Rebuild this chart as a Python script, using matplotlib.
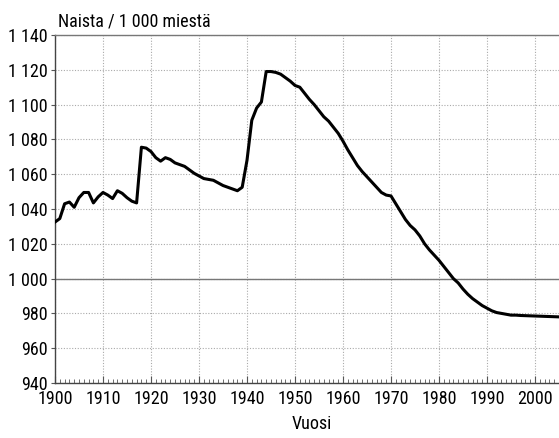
import matplotlib
matplotlib.use("Agg")
import matplotlib.pyplot as plt
from matplotlib.ticker import MultipleLocator

plt.rcParams['font.family'] = ['Roboto Condensed', 'DejaVu Sans']

# Naisia tuhatta miestä kohden, vuosittain
years = list(range(1900, 2006))
ratio = [
    1032.5, 1034.5, 1043, 1044, 1041, 1046.5, 1049.5, 1049.5, 1043.5, 1047,
    1049.5, 1048, 1046, 1050.5, 1049, 1046.5, 1044.5, 1043.5, 1075.5, 1075,
    1073, 1069.5, 1067.5, 1069.5, 1068.5, 1066.5, 1065.5, 1064.5, 1062.5, 1060.5,
    1059, 1057.5, 1057, 1056.5, 1055, 1053.5, 1052.5, 1051.5, 1050.5, 1052.5,
    1068, 1091, 1098, 1101.5, 1119, 1119, 1118.5, 1117.5, 1115.5, 1113.5,
    1111, 1110, 1106.5, 1103, 1100, 1096.5, 1093, 1090.5, 1087, 1083.5,
    1079, 1074, 1069.5, 1065, 1061.5, 1058.5, 1055.5, 1052.5, 1049.5, 1048,
    1047.5, 1043, 1038.5, 1034, 1030.5, 1028, 1024.5, 1020, 1016.5, 1013.5,
    1010.5, 1007, 1003.5, 1000, 997.5, 994, 991, 988.5, 986.5, 984.5,
    983, 981.5, 980.5, 980, 979.5, 979, 979, 978.8, 978.7, 978.6,
    978.5, 978.4, 978.3, 978.2, 978.1, 978,
]

x_ticks = list(range(1900, 2001, 10))
y_ticks = list(range(940, 1141, 20))
y_labels = ['940', '960', '980', '1 000', '1 020', '1 040', '1 060',
            '1 080', '1 100', '1 120', '1 140']

fig = plt.figure(figsize=(5.59, 4.38), dpi=100)
ax = fig.add_axes([55 / 559, 55 / 438, 1 - 55 / 559, 348 / 438])

ax.grid(True, color='#aaaaaa', linestyle=(0, (1, 1.5)), linewidth=0.8)
ax.axhline(1000, color='#777777', linewidth=1.0, zorder=2)
ax.plot(years, ratio, color='black', linewidth=2.2, zorder=3)

ax.set_xlim(1900, 2005)
ax.set_ylim(940, 1140)
ax.set_xticks(x_ticks)
ax.xaxis.set_minor_locator(MultipleLocator(1))
ax.set_yticks(y_ticks)
ax.set_yticklabels(y_labels)

ax.tick_params(axis='x', which='major', direction='in', length=5, width=0.8,
               color='#555555', labelsize=13, pad=5)
ax.tick_params(axis='x', which='minor', direction='in', length=3, width=0.6,
               color='#555555')
ax.tick_params(axis='y', direction='out', length=3, width=0.8,
               color='#555555', labelsize=13, pad=2)

for s in ['left', 'bottom']:
    ax.spines[s].set_color('#444444')
    ax.spines[s].set_linewidth(1.0)
ax.spines['top'].set_color('#777777')
ax.spines['top'].set_linewidth(1.0)
ax.spines['right'].set_visible(False)

fig.text(58 / 559, 1 - 26 / 438, 'Naista / 1 000 miestä', fontsize=13,
         ha='left', va='baseline')
fig.text(312 / 559, 1 - 429 / 438, 'Vuosi', fontsize=13,
         ha='center', va='baseline')

fig.savefig('out.png', dpi=100)
